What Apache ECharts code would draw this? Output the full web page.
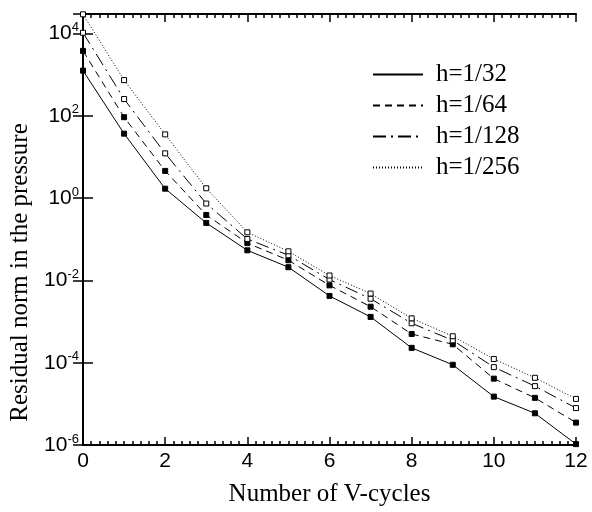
<!DOCTYPE html>
<html>
<head>
<meta charset="utf-8">
<script src="https://cdn.jsdelivr.net/npm/echarts@6/dist/echarts.min.js"></script>
<style>
  html, body { margin: 0; padding: 0; background: #fff; }
  #chart { width: 592px; height: 512px; }
</style>
</head>
<body>
<div id="chart"></div>
<script>
// V-cycle number
var cycles = [0, 1, 2, 3, 4, 5, 6, 7, 8, 9, 10, 11, 12];
// residual norms
var h32 = [1260, 37, 1.7, 0.25, 0.054, 0.021, 0.0042, 0.0013, 2.3e-4, 8.9e-5, 1.5e-5, 5.9e-6, 1.05e-6];
var h64 = [3800, 93, 4.6, 0.39, 0.081, 0.031, 0.0076, 0.0023, 5.0e-4, 2.8e-4, 4.1e-5, 1.4e-5, 3.5e-6];
var h128 = [10500, 257, 12.3, 0.74, 0.102, 0.041, 0.0105, 0.0036, 9.1e-4, 3.5e-4, 7.8e-5, 2.7e-5, 7.9e-6];
var h256 = [29500, 741, 35.5, 1.74, 0.148, 0.051, 0.0132, 0.0048, 1.2e-3, 4.4e-4, 1.23e-4, 4.3e-5, 1.32e-5];
var names = ["h=1/32", "h=1/64", "h=1/128", "h=1/256"];
var yMin = 1e-6, yMax = 30000;

var chart = echarts.init(document.getElementById("chart"));

function pairs(ys) {
  return cycles.map(function (x, i) { return [x, ys[i]]; });
}

// label 10^n only on even exponents
function powLabel(v) {
  var l = Math.log10(v);
  var e = Math.round(l);
  if (Math.abs(l - e) > 1e-6 || e % 2 !== 0) return "";
  return "{b|10}{s|" + e + "}";
}

var axisLine = { show: true, lineStyle: { color: "#000", width: 2 } };

function mkSeries(name, ys, dash, filled) {
  return {
    name: name,
    type: "line",
    data: pairs(ys),
    symbol: "rect",
    symbolSize: 5,
    showSymbol: true,
    lineStyle: { color: "#000", width: 1, type: dash },
    itemStyle: { color: filled ? "#000" : "#fff", borderColor: "#000", borderWidth: 1 },
    emphasis: { disabled: true },
    animation: false
  };
}

var option = {
  backgroundColor: "#fff",
  animation: false,
  grid: { left: 82, right: 16, top: 14, bottom: 65 },
  legend: {
    orient: "vertical",
    left: 367,
    top: 57,
    itemWidth: 50,
    itemHeight: 14,
    itemGap: 6,
    itemStyle: { opacity: 0 },
    textStyle: {
      fontFamily: "Liberation Serif",
      fontSize: 25,
      color: "#000",
      padding: [0, 0, 0, 8]
    },
    data: names
  },
  xAxis: [
    {
      type: "value",
      min: 0,
      max: 12,
      interval: 2,
      name: "Number of V-cycles",
      nameLocation: "middle",
      nameGap: 37,
      nameTextStyle: { fontFamily: "Liberation Serif", fontSize: 25, color: "#000" },
      axisLine: axisLine,
      axisTick: { inside: true, length: 8, lineStyle: { color: "#000", width: 1.5 } },
      minorTick: { show: true, splitNumber: 10, length: 4, lineStyle: { color: "#000", width: 1.5 } },
      axisLabel: { fontFamily: "Liberation Sans", fontSize: 21, color: "#000", margin: 6 },
      splitLine: { show: false }
    },
    {
      type: "value",
      position: "top",
      min: 0,
      max: 12,
      interval: 2,
      axisLine: axisLine,
      axisTick: { inside: true, length: 8, lineStyle: { color: "#000", width: 1.5 } },
      minorTick: { show: true, splitNumber: 10, length: 4, lineStyle: { color: "#000", width: 1.5 } },
      axisLabel: { show: false },
      splitLine: { show: false }
    }
  ],
  yAxis: [
    {
      type: "log",
      min: yMin,
      max: yMax,
      interval: 2,
      name: "Residual norm in the pressure",
      nameLocation: "middle",
      nameGap: 50,
      nameTextStyle: {
        fontFamily: "Liberation Serif",
        fontSize: 25,
        color: "#000",
        padding: [0, 86, 0, 0]
      },
      axisLine: axisLine,
      axisTick: { inside: true, length: 10, lineStyle: { color: "#000", width: 1.5 } },
      axisLabel: {
        margin: 4,
        formatter: powLabel,
        rich: {
          b: { fontFamily: "Liberation Sans", fontSize: 21, color: "#000" },
          s: { fontFamily: "Liberation Sans", fontSize: 13, color: "#000", padding: [0, 0, 12, 0] }
        }
      },
      splitLine: { show: false }
    },
    {
      type: "log",
      position: "right",
      min: yMin,
      max: yMax,
      interval: 2,
      axisLine: axisLine,
      axisTick: { inside: true, length: 10, lineStyle: { color: "#000", width: 1.5 } },
      axisLabel: { show: false },
      splitLine: { show: false }
    }
  ],
  series: [
    mkSeries(names[0], h32, "solid", true),
    mkSeries(names[1], h64, [7, 5], true),
    mkSeries(names[2], h128, [13, 5, 2, 5], false),
    mkSeries(names[3], h256, [1, 2], false)
  ]
};

chart.setOption(option);
</script>
</body>
</html>
